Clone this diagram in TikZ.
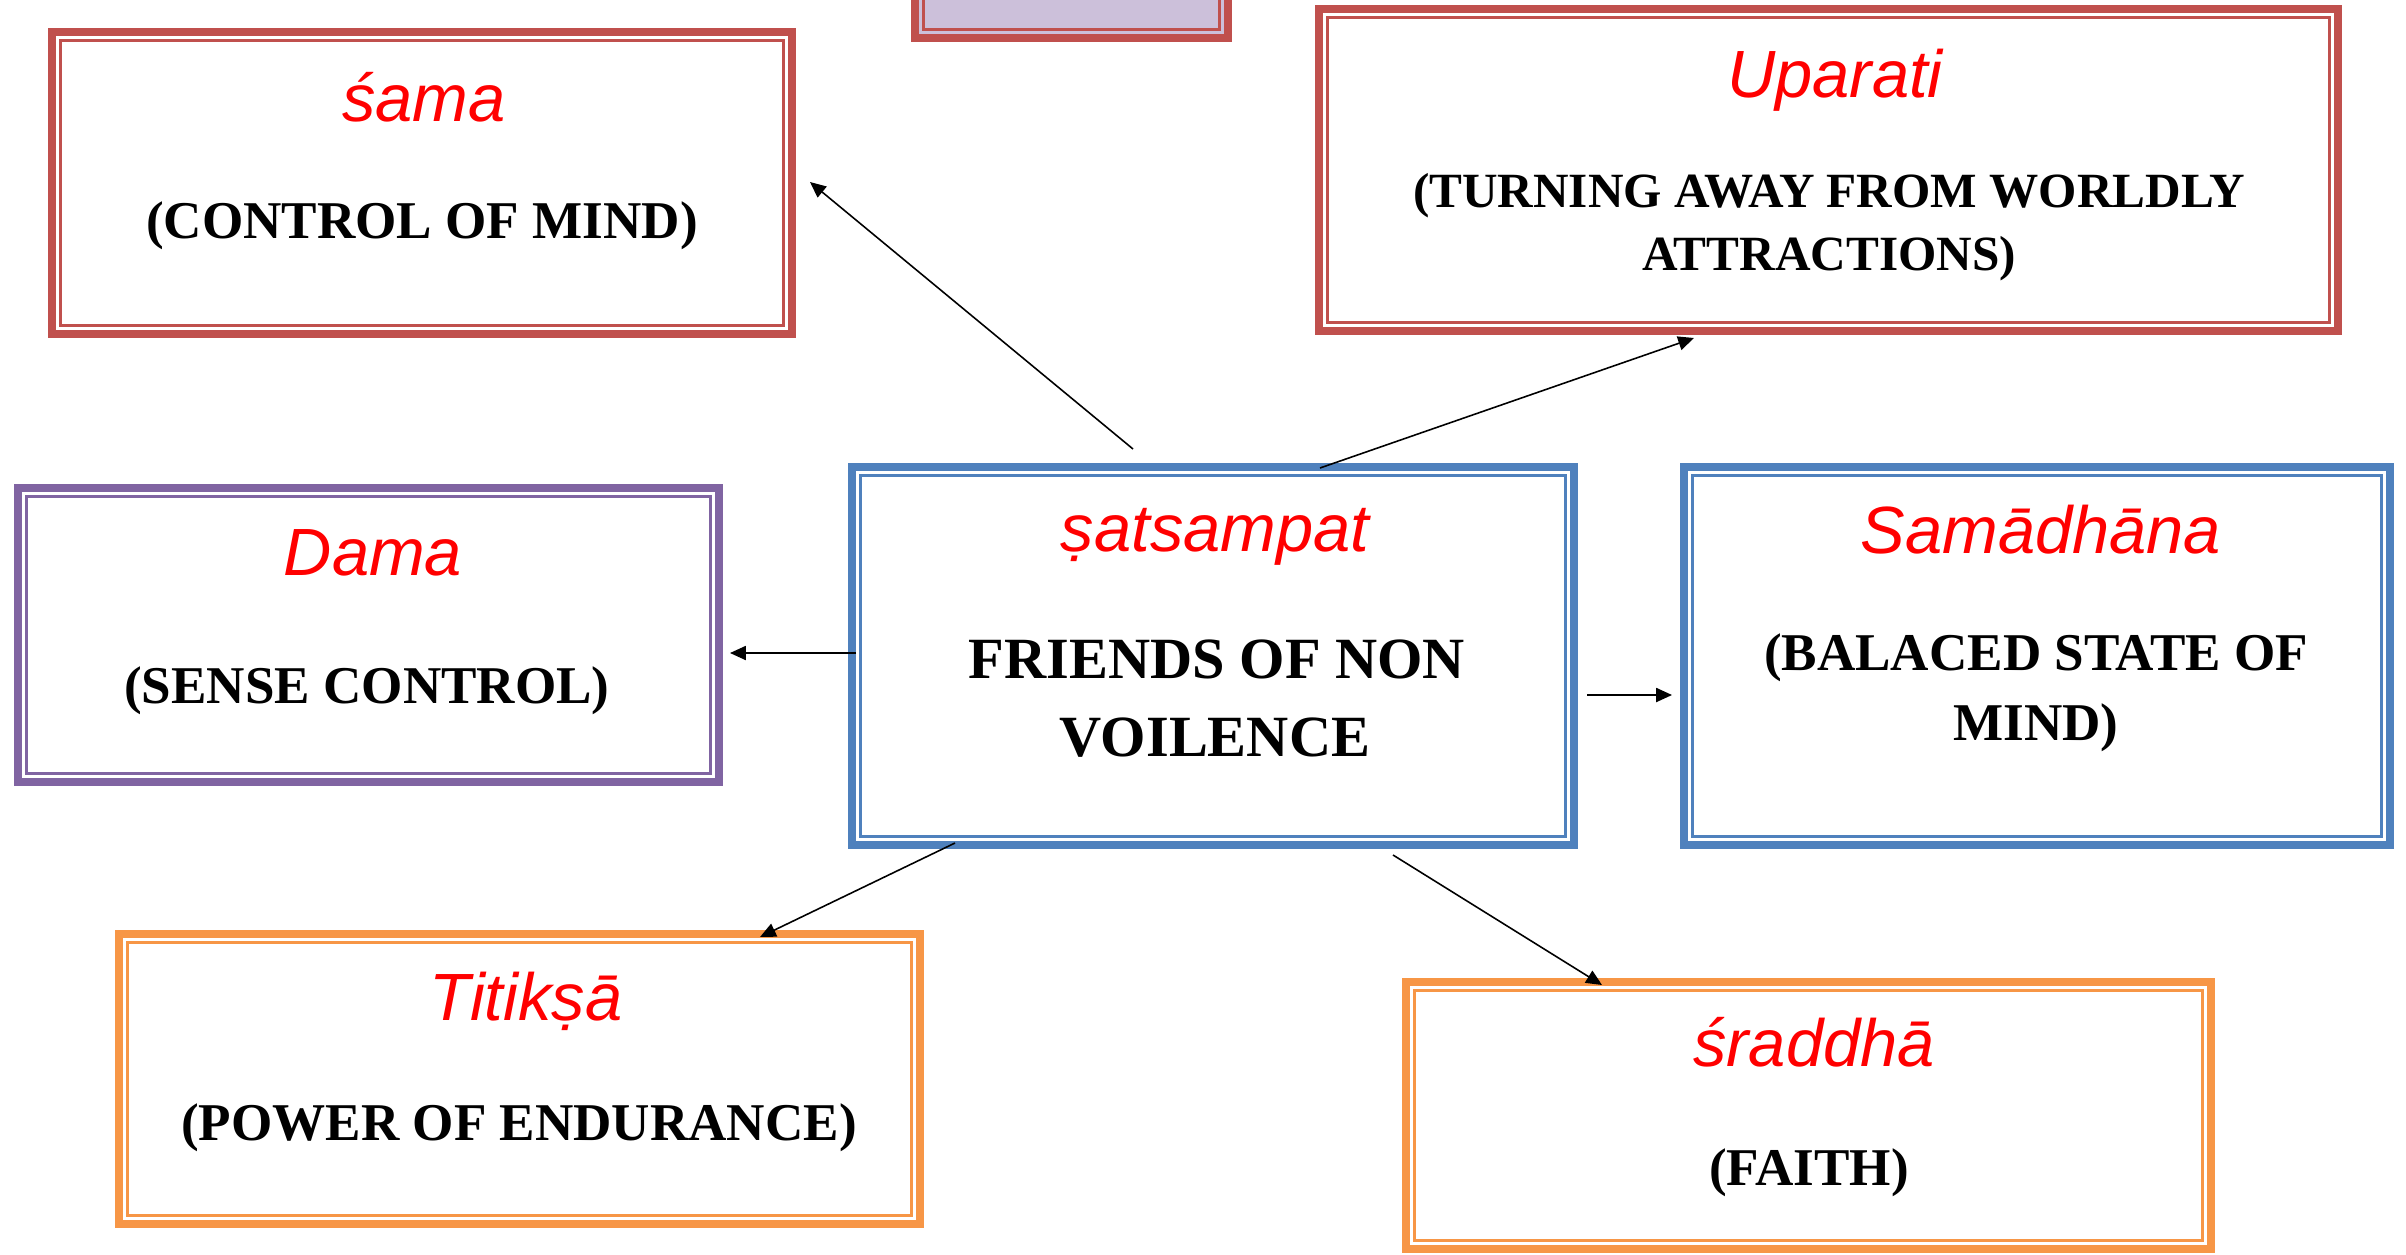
\documentclass[tikz,border=0pt]{standalone}
\usepackage{fontspec}
\setmainfont{Liberation Serif}
\newfontfamily\titfont{Liberation Sans}
\usetikzlibrary{fit,arrows.meta}
\definecolor{bred}{HTML}{C0504D}
\definecolor{bblue}{HTML}{4F81BD}
\definecolor{bpurple}{HTML}{8064A2}
\definecolor{borange}{HTML}{F79646}
\definecolor{lav}{HTML}{CCC0DA}
\definecolor{tred}{HTML}{FF0000}
\begin{document}
\begin{tikzpicture}[x=0.01cm,y=-0.01cm,
  box/.style={draw=#1, line width=2.28pt, inner sep=0pt, outer sep=0pt, rectangle},
  innerline/.style={draw=#1, line width=0.85pt},
  title/.style={anchor=base, text=tred, inner sep=0pt, font=\titfont\itshape\fontsize{19}{22}\selectfont},
  body/.style={anchor=base, inner sep=0pt, font=\bfseries\fontsize{15.1}{18}\selectfont},
  bodysmall/.style={body, font=\bfseries\fontsize{14}{17}\selectfont},
  bodybig/.style={body, font=\bfseries\fontsize{16.6}{20}\selectfont},
  arr/.style={line width=0.45pt, -{Triangle[length=4.5pt,width=4pt]}}]
\useasboundingbox (0,0) rectangle (2406,1254);
\clip (0,0) rectangle (2406,1254);
\fill[white] (0,0) rectangle (2406,1254);

% boxes
\node[box=bred, fill=lav, fit={(915,-96) (1228,38)}] (top) {};
\node[box=bred, fit={(52,32) (792,334)}] (sama) {};
\node[box=bred, fit={(1319,9) (2338,331)}] (upar) {};
\node[box=bpurple, fit={(18,488) (719,782)}] (dama) {};
\node[box=bblue, fit={(852,467) (1574,845)}] (cen) {};
\node[box=bblue, fit={(1684,467) (2390,845)}] (samadh) {};
\node[box=borange, fit={(119,934) (920,1224)}] (titik) {};
\node[box=borange, fit={(1406,982) (2211,1249)}] (sraddha) {};

\foreach \n/\c in {top/bred, sama/bred, upar/bred, dama/bpurple, cen/bblue, samadh/bblue, titik/borange, sraddha/borange}
  \draw[innerline=\c] ([shift={(8.5,8.5)}]\n.north west) rectangle ([shift={(-8.5,-8.5)}]\n.south east);

% texts
\node[title] (samaT) at (424,121) {śama};
\node[body] (samaB) at (422,238) {(CONTROL OF MIND)};
\node[title] (uparT) at (1835,97) {Uparati};
\node[bodysmall] (uparB1) at (1829,207) {(TURNING AWAY FROM WORLDLY};
\node[bodysmall] (uparB2) at (1829,270) {ATTRACTIONS)};
\node[title] (damaT) at (373,575) {Dama};
\node[body] (damaB) at (367,703) {(SENSE CONTROL)};
\node[title] (cenT) at (1215,551) {ṣatsampat};
\node[bodybig] (cenB1) at (1217,678) {FRIENDS OF NON};
\node[bodybig] (cenB2) at (1215,756) {VOILENCE};
\node[title] (samadhT) at (2041,553) {Samādhāna};
\node[body] (samadhB1) at (2036,670) {(BALACED STATE OF};
\node[body] (samadhB2) at (2036,740) {MIND)};
\node[title] (titikT) at (526,1020) {Titikṣā};
\node[body] (titikB) at (519,1140) {(POWER OF ENDURANCE)};
\node[title] (sraddhaT) at (1814,1066) {śraddhā};
\node[body] (sraddhaB) at (1809,1185) {(FAITH)};

% arrows
\draw[arr] ([shift={(281,-18)}]cen.north west) -- ([shift={(18,-152)}]sama.south east);
\draw[arr] ([shift={(468,1)}]cen.north west) -- ([shift={(375,7)}]upar.south west);
\draw[arr] ([shift={(4,-3)}]cen.west) -- ([shift={(11,18)}]dama.east);
\draw[arr] ([shift={(13,39)}]cen.east) -- ([shift={(-12,39)}]samadh.west);
\draw[arr] ([shift={(103,-2)}]cen.south west) -- ([shift={(-160,3)}]titik.north east);
\draw[arr] ([shift={(541,10)}]cen.south west) -- ([shift={(196,3)}]sraddha.north west);
\end{tikzpicture}
\end{document}
